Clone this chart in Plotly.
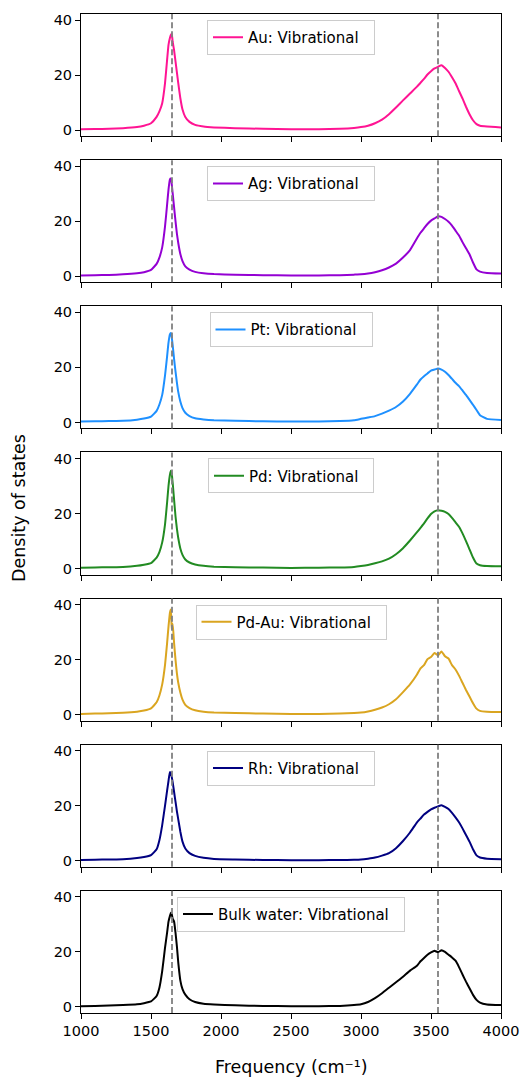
import plotly.graph_objects as go
from plotly.subplots import make_subplots

# Frequency grid (cm^-1)
FREQ = [1000, 1100, 1200, 1300, 1400, 1450, 1500,
        1540, 1560, 1580, 1600, 1615, 1625, 1635, 1642, 1648, 1655, 1665, 1675, 1685, 1695, 1710, 1725, 1745,
        1775, 1815, 1875, 1950, 2100, 2300, 2500, 2700, 2850, 2950,
        3000, 3050, 3100, 3150, 3200, 3250, 3300, 3350, 3400, 3425, 3450, 3475, 3500, 3525, 3550, 3575,
        3600, 3625, 3650, 3675, 3700, 3725, 3750, 3775, 3800, 3825, 3850, 3900, 4000]

AU = [0.3, 0.4, 0.5, 0.7, 1.1, 1.6, 2.5,
      4.8, 6.8, 9.8, 17.0, 25.5, 31.0, 33.5, 34.6, 35.0, 32.0, 29.0, 25.0, 21.0, 17.0, 11.5, 7.5, 4.8,
      3.0, 1.9, 1.3, 1.0, 0.7, 0.5, 0.35, 0.35, 0.5, 0.8,
      1.1, 1.6, 2.5, 3.8, 5.8, 8.2, 10.8, 13.3, 15.8, 17.2, 18.6, 20.2, 21.4, 22.4, 23.0, 23.6,
      22.6, 21.2, 19.2, 17.0, 14.2, 11.5, 8.5, 5.8, 3.6, 2.2, 1.6, 1.3, 1.0]

AG = [0.3, 0.4, 0.5, 0.7, 1.1, 1.5, 2.3,
      4.5, 6.8, 10.5, 18.0, 26.0, 31.5, 35.2, 35.5, 33.5, 30.0, 25.0, 20.0, 15.5, 12.0, 8.0, 5.5, 3.6,
      2.4, 1.6, 1.1, 0.8, 0.6, 0.4, 0.3, 0.3, 0.4, 0.6,
      0.7, 1.0, 1.5, 2.2, 3.2, 4.6, 6.8, 9.5, 13.8, 15.8, 17.4, 19.0, 20.2, 21.0, 21.8, 21.6,
      20.8, 19.8, 18.4, 16.6, 14.8, 12.4, 10.2, 8.0, 5.0, 2.5, 1.7, 1.2, 1.0]

PT = [0.3, 0.4, 0.5, 0.6, 1.0, 1.4, 2.1,
      4.2, 6.5, 10.0, 17.0, 24.0, 29.0, 32.0, 32.5, 31.0, 28.0, 23.0, 18.5, 14.5, 11.0, 7.5, 5.2, 3.5,
      2.3, 1.5, 1.1, 0.8, 0.6, 0.4, 0.3, 0.35, 0.5, 0.8,
      1.3, 1.8, 2.3, 3.2, 4.3, 5.6, 7.6, 10.4, 13.8, 15.6, 16.8, 17.8, 18.8, 19.2, 19.6, 19.2,
      18.4, 17.2, 15.8, 14.4, 13.2, 11.6, 10.0, 8.2, 6.4, 4.5, 2.6, 1.3, 0.9]

PD = [0.3, 0.4, 0.5, 0.6, 1.0, 1.4, 2.0,
      4.0, 6.0, 9.5, 16.0, 24.0, 30.0, 34.0, 35.5, 34.5, 31.0, 25.0, 19.0, 14.5, 11.0, 7.2, 5.0, 3.3,
      2.2, 1.5, 1.0, 0.7, 0.5, 0.35, 0.25, 0.3, 0.4, 0.6,
      0.9, 1.3, 1.9, 2.6, 3.6, 5.2, 7.4, 10.2, 13.2, 14.8, 16.4, 18.2, 19.8, 20.8, 21.2, 21.0,
      20.6, 19.8, 18.4, 16.8, 15.2, 12.8, 10.0, 7.0, 4.0, 1.8, 1.2, 0.9, 0.8]

PDAU = [0.3, 0.4, 0.5, 0.7, 1.1, 1.5, 2.3,
        4.5, 7.0, 11.0, 18.0, 26.0, 32.0, 37.0, 38.2, 31.0, 33.0, 26.0, 20.0, 15.0, 11.5, 8.0, 5.5, 3.6,
        2.4, 1.6, 1.1, 0.8, 0.6, 0.4, 0.3, 0.3, 0.4, 0.6,
        0.8, 1.2, 1.8, 2.6, 3.8, 5.6, 8.2, 11.0, 14.6, 16.8, 18.0, 20.2, 21.0, 22.4, 21.6, 23.0,
        21.2, 20.4, 18.0, 16.4, 14.2, 11.6, 9.0, 6.6, 4.2, 2.2, 1.4, 1.1, 1.0]

RH = [0.3, 0.4, 0.5, 0.6, 1.0, 1.4, 2.1,
      4.2, 7.5, 13.0, 20.0, 25.5, 29.0, 32.3, 31.8, 30.5, 28.5, 25.0, 21.5, 18.0, 15.0, 10.5, 7.0, 4.5,
      2.8, 1.8, 1.1, 0.7, 0.5, 0.3, 0.25, 0.25, 0.3, 0.4,
      0.5, 0.8, 1.2, 1.9, 2.8, 4.6, 7.2, 10.3, 14.0, 15.4, 16.8, 17.8, 18.7, 19.3, 19.8, 20.2,
      19.6, 18.8, 17.4, 15.8, 14.0, 11.8, 9.4, 7.0, 4.2, 2.0, 1.2, 0.8, 0.6]

BULK = [0.3, 0.4, 0.5, 0.7, 1.0, 1.4, 2.0,
        4.0, 7.0, 13.0, 21.5, 27.0, 31.0, 33.0, 34.2, 33.8, 32.0, 31.0, 27.0, 22.0, 16.0, 9.5, 6.5, 4.5,
        2.8, 1.8, 1.2, 0.9, 0.6, 0.4, 0.3, 0.3, 0.4, 0.7,
        1.0, 1.8, 3.2, 5.0, 7.0, 9.0, 11.0, 13.2, 15.0, 16.6, 17.8, 19.0, 19.8, 20.4, 19.9, 20.6,
        20.0, 19.0, 18.0, 16.8, 14.5, 11.8, 9.2, 6.8, 4.4, 2.6, 1.6, 0.9, 0.7]

NAMES = ["Au", "Ag", "Pt", "Pd", "Pd-Au", "Rh", "Bulk water"]
SERIES = [AU, AG, PT, PD, PDAU, RH, BULK]
COLORS = ["#FF1493", "#9400D3", "#1E90FF", "#228B22", "#DAA520", "#000080", "#000000"]
REF_LINES = [1650, 3550]
X_TICKS = [1000, 1500, 2000, 2500, 3000, 3500, 4000]
Y_TICKS = [0, 20, 40]

W, H = 521, 1078
ML, MR, MT, MB = 81, 20, 14, 65
PH = H - MT - MB
PW = W - ML - MR
N = len(NAMES)
GAP = 24
PANEL_H = (PH - GAP * (N - 1)) / N

fig = make_subplots(rows=N, cols=1, vertical_spacing=GAP / PH)
FONT = "DejaVu Sans, Arial, sans-serif"
TICK_FONT = dict(family=FONT, size=14.5, color="black")

for i, (name, vals, col) in enumerate(zip(NAMES, SERIES, COLORS)):
    leg = "legend" if i == 0 else f"legend{i + 1}"
    fig.add_trace(go.Scatter(x=FREQ, y=vals, mode="lines", name=f"{name}: Vibrational\u00a0\u00a0",
                             line=dict(color=col, width=2, shape="spline", smoothing=0.4),
                             legend=leg, showlegend=True),
                  row=i + 1, col=1)
    suffix = "" if i == 0 else str(i + 1)
    for xv in REF_LINES:
        fig.add_shape(type="line", x0=xv, x1=xv, y0=0, y1=1, xref=f"x{suffix}",
                      yref=f"y{suffix} domain", line=dict(color="#808080", width=1.8, dash="6px,3px"))
    top_px = i * (PANEL_H + GAP)
    fig.layout[leg] = dict(x=0.5, xanchor="center", y=1 - (top_px + 6) / PH, yanchor="top",
                           xref="paper", yref="paper",
                           bgcolor="rgba(255,255,255,0.8)", bordercolor="#cccccc", borderwidth=1,
                           font=dict(family=FONT, size=15, color="black"))
    fig.update_xaxes(range=[1000, 4000], tickvals=X_TICKS, ticks="outside", ticklen=5, tickwidth=1,
                     tickcolor="black", showline=True, linecolor="black", linewidth=1, mirror=True,
                     showgrid=False, zeroline=False, showticklabels=(i == N - 1), automargin=False,
                     tickfont=TICK_FONT, row=i + 1, col=1)
    fig.update_yaxes(range=[-2.18, 42.18], tickvals=Y_TICKS, ticks="outside", ticklen=5, tickwidth=1,
                     tickcolor="black", showline=True, linecolor="black", linewidth=1, mirror=True,
                     showgrid=False, zeroline=False, automargin=False,
                     tickfont=TICK_FONT, row=i + 1, col=1)

fig.add_annotation(text="Frequency (cm⁻¹)", xref="paper", yref="paper", x=0.5,
                   y=-54 / PH, yanchor="middle", showarrow=False,
                   font=dict(family=FONT, size=17.5, color="black"))
fig.add_annotation(text="Density of states", xref="paper", yref="paper",
                   x=(19 - ML) / PW, xanchor="center", y=1 - (508 - MT) / PH,
                   yanchor="middle", textangle=-90, showarrow=False,
                   font=dict(family=FONT, size=17.5, color="black"))

fig.update_layout(width=W, height=H, margin=dict(l=ML, r=MR, t=MT, b=MB, autoexpand=False),
                  paper_bgcolor="white", plot_bgcolor="white", font=dict(family=FONT))

fig.write_html("out.html", config={"displayModeBar": False},
               post_script="document.body.style.margin='0px';document.body.style.overflow='hidden';")
